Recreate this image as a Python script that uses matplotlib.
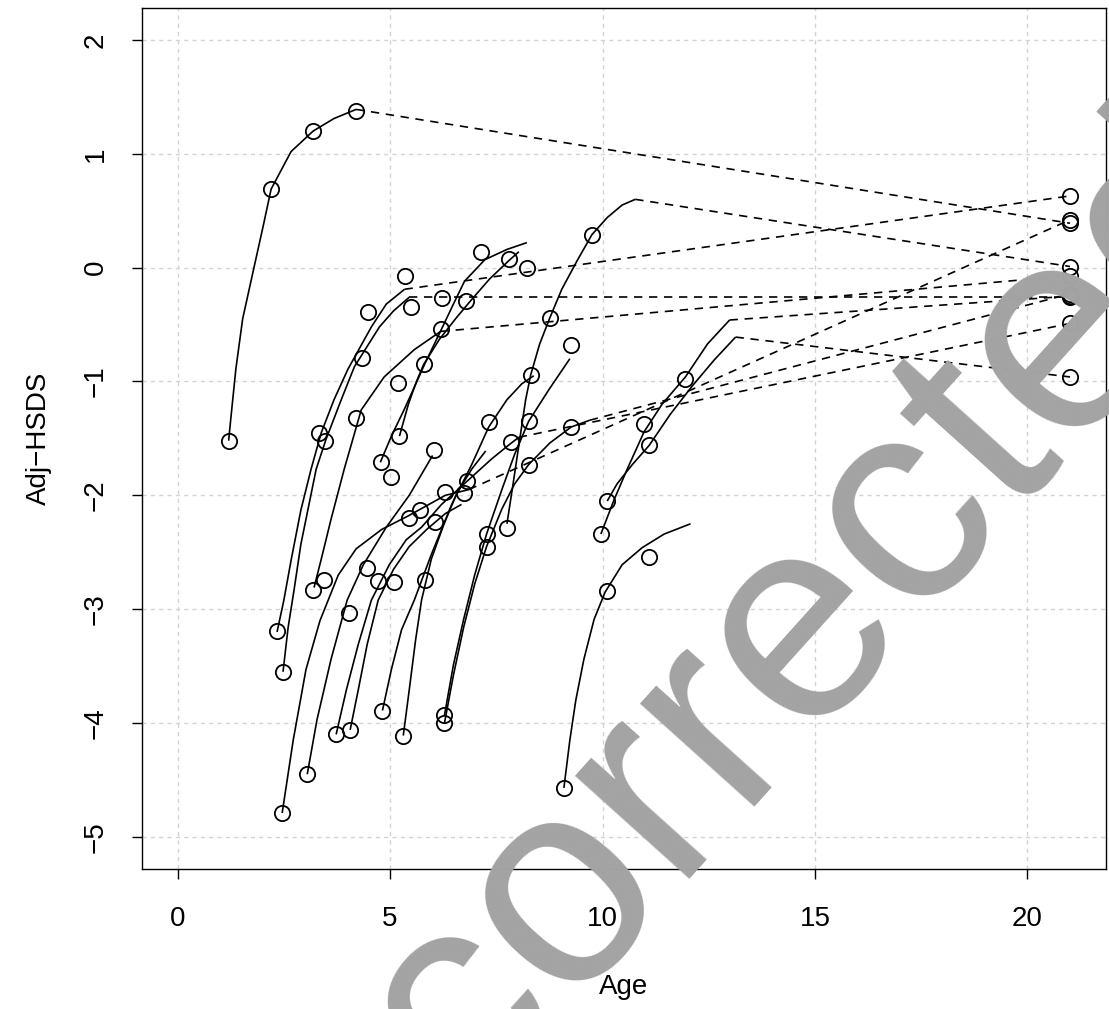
import matplotlib
matplotlib.use("Agg")
import matplotlib.pyplot as plt

plt.rcParams['font.family'] = ['Liberation Sans', 'DejaVu Sans']

# observed visits: age (years) and adjusted height SDS
obs_age = [1.2, 2.2, 3.19, 4.2,
           2.34, 2.48, 2.46, 3.05, 3.19, 3.33, 3.47, 3.45,
           4.49, 4.34, 5.34, 5.48, 6.21, 6.78, 6.19, 5.79, 5.19, 7.15, 7.79, 8.22,
           4.2, 5.22, 4.79, 5.03, 6.04, 6.82, 6.73, 6.3, 5.71, 5.45, 6.05,
           4.46, 4.72, 5.08, 5.83, 4.04,
           4.82, 3.73, 4.06, 5.31, 6.28, 6.28,
           9.75, 8.76, 9.26, 8.31, 8.26, 7.32, 9.26, 10.98, 11.95, 11.1, 7.84, 8.27,
           7.75, 7.27, 7.27,
           10.1, 9.96, 11.1, 10.1, 9.09]
obs_hsds = [-1.52, 0.69, 1.2, 1.38,
            -3.19, -3.55, -4.79, -4.45, -2.83, -1.45, -1.52, -2.74,
            -0.39, -0.79, -0.07, -0.35, -0.27, -0.29, -0.54, -0.85, -1.01, 0.14, 0.08, 0.0,
            -1.32, -1.48, -1.71, -1.84, -1.6, -1.87, -1.98, -1.97, -2.13, -2.2, -2.23,
            -2.64, -2.75, -2.76, -2.74, -3.03,
            -3.89, -4.1, -4.06, -4.11, -3.93, -4.0,
            0.29, -0.44, -0.68, -0.94, -1.35, -1.36, -1.4, -1.37, -0.98, -1.56, -1.53, -1.73,
            -2.29, -2.34, -2.45,
            -2.05, -2.34, -2.54, -2.84, -4.57]

# fitted growth curves, one list per child
curve_age = [
    [1.2, 1.25, 1.37, 1.53, 1.79, 2.01, 2.2, 2.67, 3.19, 3.68, 4.2],
    [2.34, 2.5, 2.67, 2.9, 3.14, 3.38, 3.68, 4.01, 4.56, 4.91, 5.34],
    [2.48, 2.6, 2.74, 2.9, 3.26, 3.49, 3.85, 4.16, 4.75, 5.08, 5.45],
    [3.21, 3.38, 3.61, 3.92, 4.32, 4.86, 5.57, 6.19],
    [4.77, 5.03, 5.34, 5.57, 5.81, 6.21, 6.49, 6.75, 7.23, 7.75, 8.22],
    [5.22, 5.43, 5.62, 5.79, 6.16, 6.56, 6.92, 7.34, 7.79, 8.03],
    [7.75, 7.91, 8.05, 8.19, 8.31, 8.52, 8.76, 9.04, 9.4, 9.75, 10.11, 10.46, 10.77],
    [2.46, 2.72, 3.02, 3.35, 3.78, 4.2, 4.8, 5.43, 6.3, 6.85],
    [3.05, 3.28, 3.61, 3.99, 4.37, 4.91, 5.45, 6.0],
    [3.73, 3.97, 4.25, 4.56, 4.98, 5.38, 5.74, 6.21, 6.8, 7.39, 7.82, 8.03],
    [4.06, 4.25, 4.46, 4.72, 5.08, 5.45, 5.86, 6.3, 6.68],
    [4.82, 5.03, 5.27, 5.57, 5.97, 6.45, 6.92, 7.32, 7.75, 8.1, 8.38],
    [5.31, 5.45, 5.6, 5.74, 5.97, 6.26, 6.56, 6.92, 7.25],
    [6.28, 6.49, 6.73, 6.99, 7.27, 7.63, 7.93, 8.26, 8.74, 9.23],
    [6.28, 6.49, 6.73, 6.99, 7.27, 7.63, 7.93, 8.26, 8.76, 9.26, 9.7],
    [9.96, 10.27, 10.58, 10.98, 11.4, 11.95, 12.47, 12.99],
    [10.11, 10.34, 10.7, 11.1, 11.59, 12.11, 12.63, 13.13],
    [9.09, 9.23, 9.37, 9.56, 9.8, 10.06, 10.46, 10.93, 11.45, 12.07],
]
curve_hsds = [
    [-1.52, -1.33, -0.89, -0.45, -0.01, 0.36, 0.69, 1.02, 1.2, 1.31, 1.39],
    [-3.2, -2.92, -2.57, -2.13, -1.77, -1.45, -1.16, -0.89, -0.52, -0.32, -0.19],
    [-3.55, -3.16, -2.83, -2.43, -1.77, -1.51, -1.16, -0.87, -0.52, -0.38, -0.26],
    [-2.81, -2.56, -2.21, -1.77, -1.25, -0.96, -0.72, -0.56],
    [-1.71, -1.48, -1.24, -1.05, -0.85, -0.54, -0.32, -0.12, 0.07, 0.16, 0.22],
    [-1.48, -1.2, -1.0, -0.85, -0.63, -0.44, -0.28, -0.1, 0.06, 0.14],
    [-2.25, -1.86, -1.51, -1.16, -0.94, -0.67, -0.44, -0.19, 0.06, 0.29, 0.44, 0.55, 0.6],
    [-4.79, -4.15, -3.53, -3.1, -2.7, -2.47, -2.3, -2.18, -2.0, -1.95],
    [-4.45, -3.97, -3.44, -2.92, -2.61, -2.28, -2.0, -1.65],
    [-4.1, -3.71, -3.31, -2.92, -2.61, -2.39, -2.28, -2.08, -1.88, -1.68, -1.55, -1.49],
    [-4.06, -3.71, -3.31, -2.92, -2.65, -2.45, -2.3, -2.16, -2.08],
    [-3.89, -3.53, -3.18, -2.92, -2.52, -2.08, -1.73, -1.4, -1.16, -1.02, -0.95],
    [-4.11, -3.71, -3.27, -2.92, -2.56, -2.26, -1.99, -1.77, -1.61],
    [-3.93, -3.49, -3.09, -2.7, -2.34, -1.95, -1.64, -1.35, -1.07, -0.8],
    [-4.0, -3.58, -3.16, -2.78, -2.45, -2.12, -1.9, -1.73, -1.54, -1.4, -1.34],
    [-2.34, -2.04, -1.77, -1.44, -1.2, -0.96, -0.67, -0.46],
    [-2.05, -1.9, -1.73, -1.56, -1.29, -1.04, -0.81, -0.61],
    [-4.57, -4.15, -3.8, -3.44, -3.09, -2.85, -2.61, -2.46, -2.34, -2.25],
]
# adult height SDS (None = not reached yet)
adult_hsds = [0.39, 0.63, -0.26, -0.07, None, None, 0.01, 0.42, None, -0.49,
              None, None, None, None, -0.23, -0.25, -0.96, None]
adult_age = 21

fig = plt.figure(figsize=(11.09, 10.09), dpi=100)
ax = fig.add_axes([0.128, 0.139, 0.869, 0.853])

ax.grid(True, color='#d3d3d3', linestyle=(0, (3, 3)), linewidth=1)
ax.set_axisbelow(True)

for cx, cy, adult in zip(curve_age, curve_hsds, adult_hsds):
    ax.plot(cx, cy, color='black', lw=1.2, solid_capstyle='butt')
    if adult is not None:
        ax.plot([cx[-1], adult_age], [cy[-1], adult], color='black', lw=1.2,
                linestyle=(0, (5, 4)))

ax.plot(obs_age, obs_hsds, 'o', ms=11, mfc='none', mec='black', mew=1.3)
adults = [a for a in adult_hsds if a is not None]
ax.plot([adult_age] * len(adults), adults, 'o', ms=11, mfc='none', mec='black', mew=1.3)

ax.set_xlim(-0.84, 21.84)
ax.set_ylim(-5.28, 2.28)
ax.set_xticks([0, 5, 10, 15, 20])
ax.set_xticklabels(['0', '5', '10', '15', '20'], fontsize=20)
yt = [-5, -4, -3, -2, -1, 0, 1, 2]
ax.set_yticks(yt)
ax.set_yticklabels([str(v).replace('-', '\u2212') for v in yt], fontsize=20,
                   rotation=90, va='center')
ax.tick_params(axis='x', direction='out', length=7, width=1, pad=20)
ax.tick_params(axis='y', direction='out', length=7, width=1, pad=17)
for s in ax.spines.values():
    s.set_linewidth(1)

ax.set_xlabel('Age', fontsize=20, labelpad=30)
ax.set_ylabel('Adj\u2212HSDS', fontsize=20, labelpad=22)

fig.text(0.622, 0.265, 'Uncorrected', rotation=48, fontsize=210, color='#a3a3a3',
         ha='center', va='center', rotation_mode='anchor')

fig.savefig('out.png', dpi=100)
